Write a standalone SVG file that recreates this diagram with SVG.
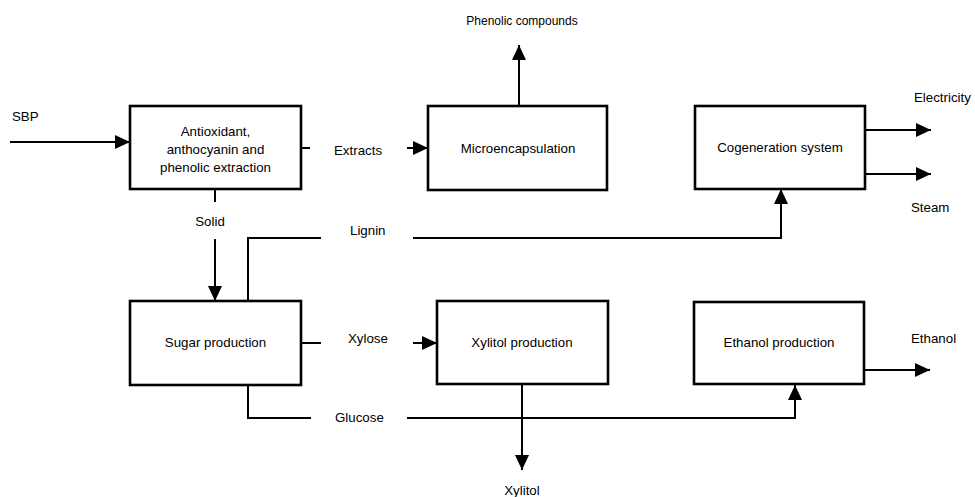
<svg xmlns="http://www.w3.org/2000/svg" width="975" height="497" viewBox="0 0 975 497">
<style>
.box{fill:#fff;stroke:#000;stroke-width:2.6}
.ln{fill:none;stroke:#000;stroke-width:2}
text{font-family:"Liberation Sans",Arial,sans-serif;font-size:13.3px;fill:#000}
.c{text-anchor:middle}
</style>
<defs>
<marker id="ah" markerUnits="userSpaceOnUse" markerWidth="16" markerHeight="14" refX="15" refY="7" orient="auto" viewBox="0 0 16 14">
<path d="M0,0 L15,7 L0,14 z" fill="#000"/>
</marker>
</defs>
<g id="connectors">
<line class="ln" x1="10" y1="142" x2="130" y2="142" marker-end="url(#ah)"/>
<line class="ln" x1="301" y1="148" x2="310" y2="148"/>
<line class="ln" x1="407" y1="148" x2="428" y2="148" marker-end="url(#ah)"/>
<line class="ln" x1="519" y1="106" x2="519" y2="45" marker-end="url(#ah)"/>
<line class="ln" x1="215" y1="189" x2="215" y2="202"/>
<line class="ln" x1="215" y1="239" x2="215" y2="301" marker-end="url(#ah)"/>
<path class="ln" d="M248 301 V238 H321"/>
<path class="ln" d="M413 238 H781 V189" marker-end="url(#ah)"/>
<line class="ln" x1="865" y1="130" x2="931" y2="130" marker-end="url(#ah)"/>
<line class="ln" x1="865" y1="174" x2="931" y2="174" marker-end="url(#ah)"/>
<line class="ln" x1="301" y1="343" x2="321" y2="343"/>
<line class="ln" x1="413" y1="343" x2="437" y2="343" marker-end="url(#ah)"/>
<line class="ln" x1="522" y1="384" x2="522" y2="470" marker-end="url(#ah)"/>
<path class="ln" d="M248 385 V418 H311"/>
<path class="ln" d="M407 418 H795 V385" marker-end="url(#ah)"/>
<line class="ln" x1="864" y1="370" x2="930" y2="370" marker-end="url(#ah)"/>
</g>
<g id="labels">
<text x="12" y="121">SBP</text>
<text x="334" y="155">Extracts</text>
<text x="522" y="25" class="c" style="font-size:12px">Phenolic compounds</text>
<text x="914" y="102">Electricity</text>
<text x="911" y="212">Steam</text>
<text x="210" y="226" class="c">Solid</text>
<text x="350" y="235">Lignin</text>
<text x="348" y="343">Xylose</text>
<text x="911" y="343">Ethanol</text>
<text x="335" y="422">Glucose</text>
<text x="522" y="495" class="c">Xylitol</text>
</g>
<g id="node-extraction">
<rect class="box" x="130" y="106" width="171" height="83"/>
<text x="215.5" y="136" class="c">Antioxidant,</text>
<text x="215.5" y="154" class="c">anthocyanin and</text>
<text x="215.5" y="172" class="c">phenolic extraction</text>
</g>
<g id="node-microencapsulation">
<rect class="box" x="428" y="106" width="179" height="84"/>
<text x="518" y="153" class="c">Microencapsulation</text>
</g>
<g id="node-cogeneration">
<rect class="box" x="695" y="106" width="170" height="83"/>
<text x="780" y="152" class="c">Cogeneration system</text>
</g>
<g id="node-sugar">
<rect class="box" x="130" y="301" width="171" height="84"/>
<text x="215.5" y="347" class="c">Sugar production</text>
</g>
<g id="node-xylitol">
<rect class="box" x="437" y="301" width="171" height="83"/>
<text x="522" y="347" class="c">Xylitol production</text>
</g>
<g id="node-ethanol">
<rect class="box" x="694" y="302" width="170" height="82"/>
<text x="779" y="347" class="c">Ethanol production</text>
</g>
</svg>
